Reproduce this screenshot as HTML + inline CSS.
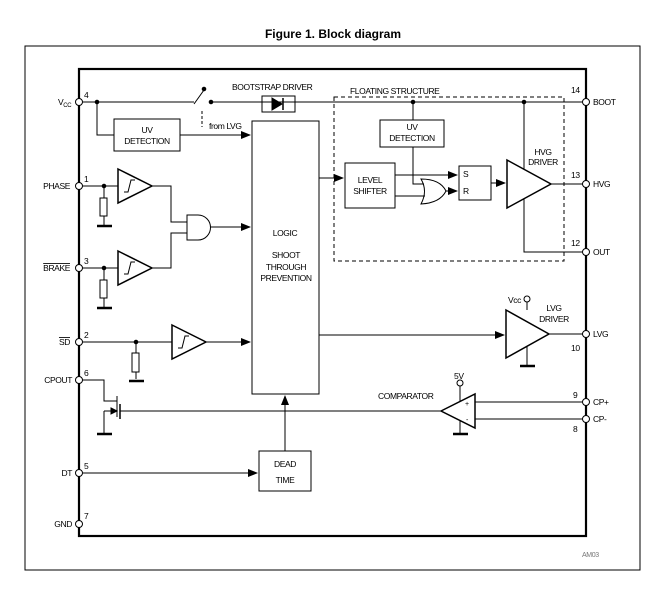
<!DOCTYPE html>
<html><head><style>body{margin:0;background:#fff}svg{display:block}text{font-family:"Liberation Sans",sans-serif;font-size:8.5px;fill:#000;letter-spacing:-0.4px}</style></head><body>
<svg width="666" height="589" viewBox="0 0 666 589" xmlns="http://www.w3.org/2000/svg">
<defs><marker id="a" markerWidth="10" markerHeight="8" refX="9" refY="4" orient="auto" markerUnits="userSpaceOnUse"><path d="M0,0L10,4L0,8z" fill="#000"/></marker></defs>
<text x="333" y="38" text-anchor="middle" style="font-size:12px;font-weight:bold;letter-spacing:0">Figure 1. Block diagram</text>
<rect x="25" y="46" width="615" height="524" fill="none" stroke="#000" stroke-width="1"/>
<rect x="79" y="69" width="507" height="467" fill="none" stroke="#000" stroke-width="2.2"/>
<g fill="none" stroke="#000" stroke-width="1">
<!-- Vcc line -->
<path d="M79,102H194 M194,104L204,90 M211,102H586"/>
<circle cx="204" cy="89" r="1.8" fill="#000"/><circle cx="211" cy="102" r="1.8" fill="#000"/>
<circle cx="97" cy="102" r="1.8" fill="#000"/>
<path d="M97,102V135H114"/>
<rect x="114" y="119" width="66" height="32"/>
<path d="M180,135H250" marker-end="url(#a)"/>
<path d="M202,111V127" stroke-dasharray="3,2"/>
<rect x="262" y="96" width="33" height="16"/>
<path d="M272,98L282,104L272,110z" fill="#000"/><path d="M283,98V110" stroke-width="1.5"/>
<!-- logic -->
<rect x="252" y="121" width="67" height="273"/>
<!-- phase -->
<path d="M79,186H118 M104,186V198 M104,216V226"/>
<circle cx="104" cy="186" r="1.8" fill="#000"/>
<rect x="100" y="198" width="7" height="18"/><path d="M97,226H112" stroke-width="2.5"/>
<path d="M118,169L152,186L118,203z" stroke-width="1.5"/>
<path d="M124,192H128L131,180H135 M128,192L131,180"/>
<path d="M152,186H171V222H187 M152,268H171V233H187"/>
<path d="M187,215H198A12.5,12.5 0 0 1 198,240H187z"/>
<path d="M210,227H250" marker-end="url(#a)"/>
<!-- brake -->
<path d="M79,268H118 M104,268V280 M104,298V308"/>
<circle cx="104" cy="268" r="1.8" fill="#000"/>
<rect x="100" y="280" width="7" height="18"/><path d="M97,308H112" stroke-width="2.5"/>
<path d="M118,251L152,268L118,285z" stroke-width="1.5"/>
<path d="M124,274H128L131,262H135 M128,274L131,262"/>
<!-- SD -->
<path d="M79,342H172 M136,342V353 M136,372V379"/>
<circle cx="136" cy="342" r="1.8" fill="#000"/>
<rect x="132" y="353" width="7" height="19"/><path d="M129,381H144" stroke-width="2.5"/>
<path d="M172,325L206,342L172,359z" stroke-width="1.5"/>
<path d="M178,348H182L185,336H189 M182,348L185,336"/>
<path d="M206,342H250" marker-end="url(#a)"/>
<!-- CPOUT mosfet -->
<path d="M79,380H104V401H117 M117,396V417 M104,411V434 M104,411H116" />
<path d="M111,408L117,411L111,414z" fill="#000"/>
<path d="M120,404V419" stroke-width="1.5"/>
<path d="M97,434H112" stroke-width="2.5"/>
<path d="M120,411H441"/>
<!-- DT -->
<path d="M79,473H257" marker-end="url(#a)"/>
<rect x="259" y="451" width="52" height="40"/>
<path d="M285,451V396" marker-end="url(#a)"/>
<!-- floating -->
<rect x="334" y="97" width="230" height="164" stroke-dasharray="4,3"/>
<circle cx="413" cy="102" r="1.8" fill="#000"/><circle cx="524" cy="102" r="1.8" fill="#000"/>
<path d="M413,102V120"/>
<rect x="380" y="120" width="64" height="27"/>
<path d="M413,147V184H424"/>
<path d="M319,178H343" marker-end="url(#a)"/>
<rect x="345" y="163" width="50" height="45"/>
<path d="M395,175H457" marker-end="url(#a)"/>
<path d="M395,196H425"/>
<path d="M421,179Q440,179 446,191Q440,203 421,204Q428,191 421,179z"/>
<path d="M446,191H457" marker-end="url(#a)"/>
<rect x="459" y="166" width="32" height="34"/>
<path d="M491,183H505" marker-end="url(#a)"/>
<path d="M507,160L551,184L507,208z" stroke-width="1.5"/>
<path d="M551,184H586"/>
<path d="M524,102V169 M524,199V252H586"/>
<!-- LVG -->
<path d="M319,335H504" marker-end="url(#a)"/>
<path d="M506,310L549,334L506,358z" stroke-width="1.5"/>
<path d="M549,334H586 M527,310V302 M527,346V365"/>
<circle cx="527" cy="299" r="3" fill="#fff"/>
<path d="M520,366H535" stroke-width="2.5"/>
<!-- comparator -->
<path d="M441,411L475,394V428z" stroke-width="1.5"/>
<path d="M475,402H586 M475,419H586 M460,386V402 M460,420V434"/>
<circle cx="460" cy="383" r="3" fill="#fff"/>
<path d="M453,434H468" stroke-width="2.5"/>
</g>
<g fill="#fff" stroke="#000" stroke-width="1">
<circle cx="79" cy="102" r="3.5"/><circle cx="79" cy="186" r="3.5"/><circle cx="79" cy="268" r="3.5"/><circle cx="79" cy="342" r="3.5"/><circle cx="79" cy="380" r="3.5"/><circle cx="79" cy="473" r="3.5"/><circle cx="79" cy="524" r="3.5"/>
<circle cx="586" cy="102" r="3.5"/><circle cx="586" cy="184" r="3.5"/><circle cx="586" cy="252" r="3.5"/><circle cx="586" cy="334" r="3.5"/><circle cx="586" cy="402" r="3.5"/><circle cx="586" cy="419" r="3.5"/>
</g>
<text x="58" y="105">V<tspan style="font-size:6px" dy="2">CC</tspan></text>
<text x="84" y="98">4</text><text x="84" y="182">1</text><text x="84" y="264">3</text><text x="84" y="338">2</text><text x="84" y="376">6</text><text x="84" y="469">5</text><text x="84" y="519">7</text>
<text x="70" y="189" text-anchor="end">PHASE</text>
<text x="70" y="271" text-anchor="end" style="text-decoration:overline">BRAKE</text>
<text x="70" y="345" text-anchor="end" style="text-decoration:overline">SD</text>
<text x="72" y="383" text-anchor="end">CPOUT</text>
<text x="72" y="476" text-anchor="end">DT</text>
<text x="72" y="527" text-anchor="end">GND</text>
<text x="147" y="133" text-anchor="middle">UV</text><text x="147" y="144" text-anchor="middle">DETECTION</text>
<text x="209" y="129">from LVG</text>
<text x="232" y="90">BOOTSTRAP DRIVER</text>
<text x="350" y="94">FLOATING STRUCTURE</text>
<text x="412" y="130" text-anchor="middle">UV</text><text x="412" y="141" text-anchor="middle">DETECTION</text>
<text x="370" y="183" text-anchor="middle">LEVEL</text><text x="370" y="194" text-anchor="middle">SHIFTER</text>
<text x="463" y="177">S</text><text x="463" y="194">R</text>
<text x="543" y="155" text-anchor="middle">HVG</text><text x="543" y="165" text-anchor="middle">DRIVER</text>
<text x="285" y="236" text-anchor="middle">LOGIC</text>
<text x="286" y="258" text-anchor="middle">SHOOT</text><text x="286" y="270" text-anchor="middle">THROUGH</text><text x="286" y="281" text-anchor="middle">PREVENTION</text>
<text x="285" y="467" text-anchor="middle">DEAD</text><text x="285" y="483" text-anchor="middle">TIME</text>
<text x="571" y="93">14</text><text x="593" y="105">BOOT</text>
<text x="571" y="178">13</text><text x="593" y="187">HVG</text>
<text x="571" y="246">12</text><text x="593" y="255">OUT</text>
<text x="593" y="337">LVG</text><text x="571" y="351">10</text>
<text x="573" y="398">9</text><text x="593" y="405">CP+</text>
<text x="593" y="422">CP-</text><text x="573" y="432">8</text>
<text x="508" y="303">Vcc</text>
<text x="554" y="311" text-anchor="middle">LVG</text><text x="554" y="322" text-anchor="middle">DRIVER</text>
<text x="454" y="379">5V</text>
<text x="378" y="399">COMPARATOR</text>
<text x="465" y="406" style="font-size:7px">+</text><text x="466" y="422" style="font-size:7px">-</text>
<text x="582" y="557" style="font-size:7px;fill:#777">AM03</text>
</svg>
</body></html>
